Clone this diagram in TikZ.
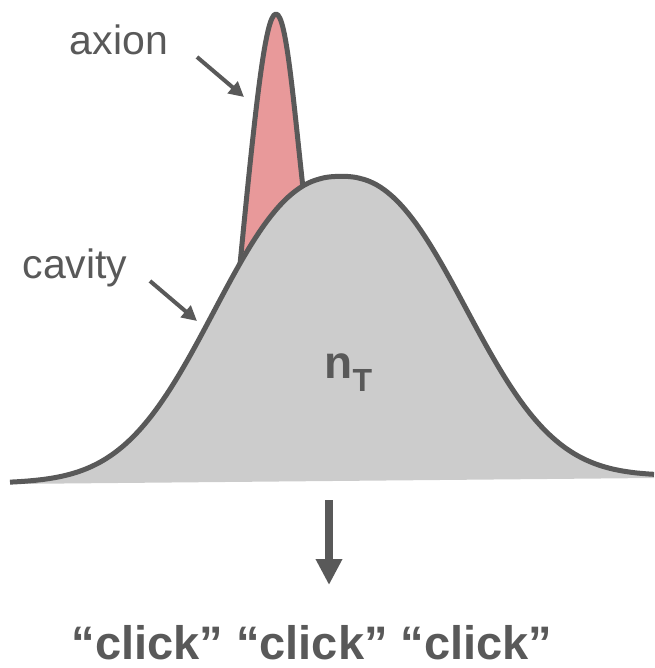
\documentclass[tikz,border=0pt]{standalone}
\usepackage{fontspec}
\setmainfont{Liberation Sans}
\usetikzlibrary{arrows.meta}
\definecolor{linha}{HTML}{595959}
\definecolor{cinza}{HTML}{CCCCCC}
\definecolor{rosa}{HTML}{E8999A}

\begin{document}
\begin{tikzpicture}[x=1pt,y=-1pt,
    curva/.style={draw=linha,line width=5pt,line join=round},
    seta/.style={draw=linha,line width=4pt,-{Triangle[length=15pt,width=15pt]}},
    rotulo/.style={text=linha,inner sep=0pt,font=\fontsize{41}{41}\selectfont}]

    \useasboundingbox (0,0) rectangle (654,668);

    % Pico do axion
    \filldraw[curva,fill=rosa] (238,285) .. controls (255,110) and (265,14) .. (276,14)
        .. controls (287,14) and (294,110) .. (306,215) -- cycle;

    % Curva da cavidade (preenchimento)
    \fill[cinza] plot[domain=10:654,samples=161]
        (\x,{483-7*(\x-10)/644-303*exp(-(abs(\x-340)/158)^2.4)}) -- (654,478) -- (10,484) -- cycle;

    % Curva da cavidade (contorno)
    \draw[curva] plot[domain=10:654,samples=161]
        (\x,{483-7*(\x-10)/644-303*exp(-(abs(\x-340)/158)^2.4)});

    % Rotulos
    \node[rotulo,anchor=base] (axion) at (119,55) {axion};
    \node[rotulo,anchor=base] (cavity) at (75,278) {cavity};
    \node[rotulo,anchor=base west,font=\fontsize{46}{46}\selectfont\bfseries] (nT) at (324,378) {n};
    \node[rotulo,anchor=base west,yshift=-13pt,font=\fontsize{32}{32}\selectfont\bfseries] (sub) at (nT.base east) {T};

    % Setas dos rotulos
    \coordinate (ax0) at (197,57);
    \coordinate (ax1) at (244,97);
    \draw[seta] (ax0) -- (ax1);
    \coordinate (cav0) at (150,281);
    \coordinate (cav1) at (197,321);
    \draw[seta] (cav0) -- (cav1);

    % Seta para baixo e cliques
    \node[rotulo,anchor=base,font=\fontsize{47}{47}\selectfont\bfseries] (clicks) at (312,659) {“click” “click” “click”};
    \coordinate (baixo0) at (329,500);
    \coordinate (baixo1) at (329,585);
    \draw[draw=linha,line width=8pt,-{Triangle[length=26pt,width=25pt]}] (baixo0) -- (baixo1);

\end{tikzpicture}
\end{document}
